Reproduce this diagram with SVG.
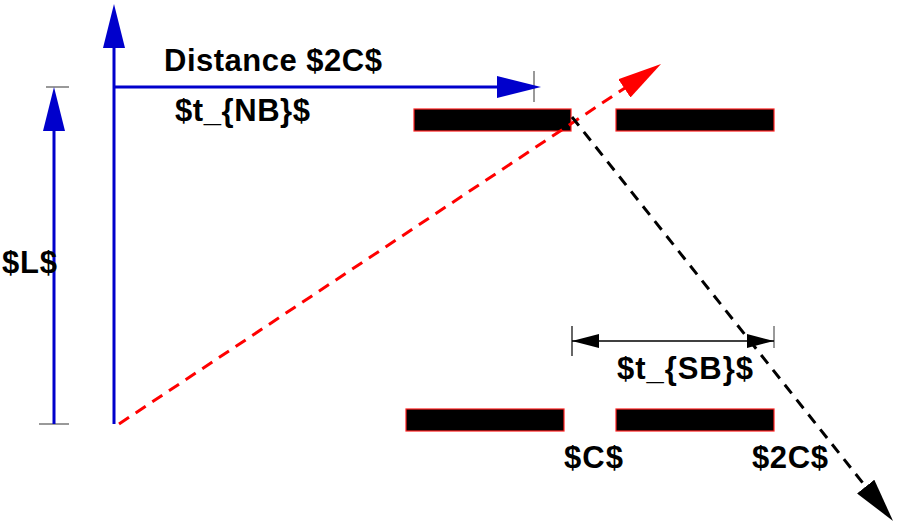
<svg xmlns="http://www.w3.org/2000/svg" width="898" height="525" viewBox="0 0 898 525">
<style>
.lbl{font-family:"Liberation Sans",Arial,sans-serif;font-weight:bold;font-size:31px;fill:#000}
.bar{fill:#000;stroke:#ff2020;stroke-width:1.2}
.blue{stroke:#0000cc;stroke-width:3;fill:none}
.tick{stroke:#777;stroke-width:1.5;fill:none}
.red{stroke:#ff0000;stroke-width:3;fill:none;stroke-dasharray:12 8}
.blk{stroke:#000;stroke-width:3;fill:none;stroke-dasharray:11 8}
.dim{stroke:#000;stroke-width:1.5;fill:none}
</style>
<defs>
<marker id="hb" markerUnits="userSpaceOnUse" markerWidth="44" markerHeight="22" refX="10" refY="11" orient="auto" viewBox="0 0 44 22"><path d="M0,0 L44,11 L0,22 z" fill="#0000cc"/></marker>
<marker id="hr" markerUnits="userSpaceOnUse" markerWidth="44" markerHeight="22" refX="10" refY="11" orient="auto" viewBox="0 0 44 22"><path d="M0,0 L44,11 L0,22 z" fill="#ff0000"/></marker>
<marker id="hk" markerUnits="userSpaceOnUse" markerWidth="44" markerHeight="22" refX="10" refY="11" orient="auto" viewBox="0 0 44 22"><path d="M0,0 L44,11 L0,22 z" fill="#000"/></marker>
<marker id="hs" markerUnits="userSpaceOnUse" markerWidth="27" markerHeight="14" refX="27" refY="7" orient="auto-start-reverse" viewBox="0 0 27 14"><path d="M0,0 L27,7 L0,14 z" fill="#000"/></marker>
</defs>
<g id="bars">
<g id="bar-top-left"><rect class="bar" x="414" y="109" width="157" height="22"/></g>
<g id="bar-top-right"><rect class="bar" x="616" y="109" width="158" height="22"/></g>
<g id="bar-bottom-left"><rect class="bar" x="406" y="409" width="158" height="22"/></g>
<g id="bar-bottom-right"><rect class="bar" x="616" y="409" width="158" height="22"/></g>
</g>
<g id="connectors">
<line class="tick" x1="46" y1="87" x2="69" y2="87"/>
<line class="tick" x1="39" y1="424" x2="69" y2="424"/>
<line class="tick" x1="534" y1="71" x2="534" y2="102"/>
<line class="blue" x1="54" y1="424" x2="54" y2="121" marker-end="url(#hb)"/>
<line class="blue" x1="114" y1="424" x2="114" y2="38" marker-end="url(#hb)"/>
<line class="blue" x1="114" y1="87" x2="507" y2="87" marker-end="url(#hb)"/>
<line class="red" x1="119" y1="424" x2="632.7" y2="82.8" marker-end="url(#hr)"/>
<line class="blk" x1="572" y1="117" x2="871.9" y2="494.4" marker-end="url(#hk)"/>
<line x1="572" y1="326" x2="572" y2="356" stroke="#000" stroke-width="1.2"/>
<line class="tick" x1="774" y1="326" x2="774" y2="348"/>
<line class="dim" x1="572" y1="341" x2="774" y2="341" marker-start="url(#hs)" marker-end="url(#hs)"/>
</g>
<g id="labels">
<g id="label-distance"><text class="lbl" x="164" y="71" textLength="218">Distance $2C$</text></g>
<g id="label-tnb"><text class="lbl" x="175" y="121" textLength="135">$t_{NB}$</text></g>
<g id="label-L"><text class="lbl" x="2" y="273" textLength="55">$L$</text></g>
<g id="label-tsb"><text class="lbl" x="617" y="379" textLength="136">$t_{SB}$</text></g>
<g id="label-C"><text class="lbl" x="564" y="468" textLength="59">$C$</text></g>
<g id="label-2C"><text class="lbl" x="752" y="468" textLength="76">$2C$</text></g>
</g>
</svg>
